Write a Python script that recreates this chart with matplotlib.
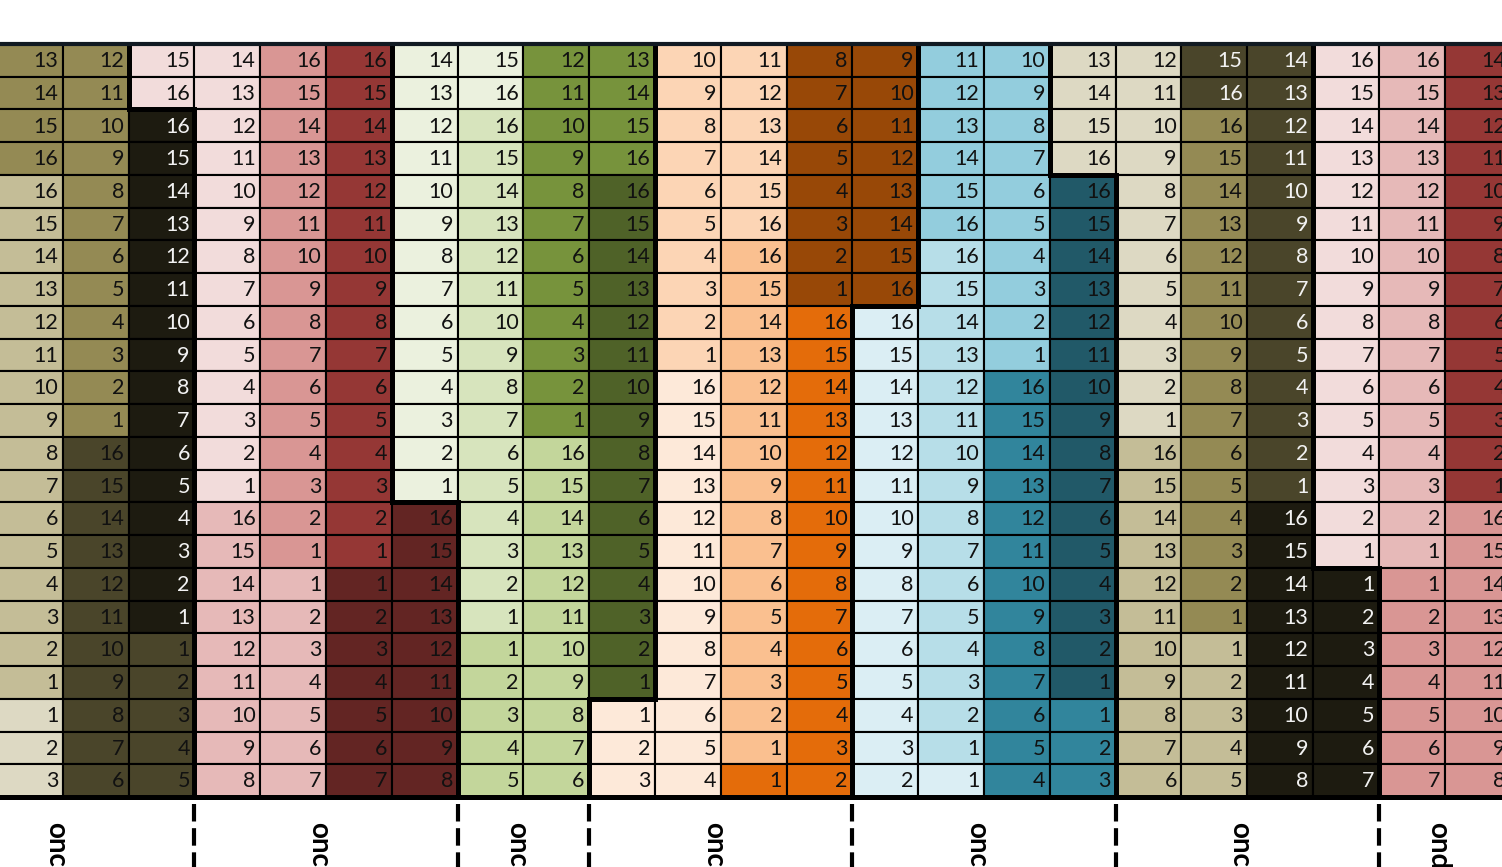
import matplotlib.pyplot as plt
from matplotlib.patches import Rectangle

# cell numbers, one list per column, top row first
col_values = [
    [13, 14, 15, 16, 16, 15, 14, 13, 12, 11, 10, 9, 8, 7, 6, 5, 4, 3, 2, 1, 1, 2, 3],
    [12, 11, 10, 9, 8, 7, 6, 5, 4, 3, 2, 1, 16, 15, 14, 13, 12, 11, 10, 9, 8, 7, 6],
    [15, 16, 16, 15, 14, 13, 12, 11, 10, 9, 8, 7, 6, 5, 4, 3, 2, 1, 1, 2, 3, 4, 5],
    [14, 13, 12, 11, 10, 9, 8, 7, 6, 5, 4, 3, 2, 1, 16, 15, 14, 13, 12, 11, 10, 9, 8],
    [16, 15, 14, 13, 12, 11, 10, 9, 8, 7, 6, 5, 4, 3, 2, 1, 1, 2, 3, 4, 5, 6, 7],
    [16, 15, 14, 13, 12, 11, 10, 9, 8, 7, 6, 5, 4, 3, 2, 1, 1, 2, 3, 4, 5, 6, 7],
    [14, 13, 12, 11, 10, 9, 8, 7, 6, 5, 4, 3, 2, 1, 16, 15, 14, 13, 12, 11, 10, 9, 8],
    [15, 16, 16, 15, 14, 13, 12, 11, 10, 9, 8, 7, 6, 5, 4, 3, 2, 1, 1, 2, 3, 4, 5],
    [12, 11, 10, 9, 8, 7, 6, 5, 4, 3, 2, 1, 16, 15, 14, 13, 12, 11, 10, 9, 8, 7, 6],
    [13, 14, 15, 16, 16, 15, 14, 13, 12, 11, 10, 9, 8, 7, 6, 5, 4, 3, 2, 1, 1, 2, 3],
    [10, 9, 8, 7, 6, 5, 4, 3, 2, 1, 16, 15, 14, 13, 12, 11, 10, 9, 8, 7, 6, 5, 4],
    [11, 12, 13, 14, 15, 16, 16, 15, 14, 13, 12, 11, 10, 9, 8, 7, 6, 5, 4, 3, 2, 1, 1],
    [8, 7, 6, 5, 4, 3, 2, 1, 16, 15, 14, 13, 12, 11, 10, 9, 8, 7, 6, 5, 4, 3, 2],
    [9, 10, 11, 12, 13, 14, 15, 16, 16, 15, 14, 13, 12, 11, 10, 9, 8, 7, 6, 5, 4, 3, 2],
    [11, 12, 13, 14, 15, 16, 16, 15, 14, 13, 12, 11, 10, 9, 8, 7, 6, 5, 4, 3, 2, 1, 1],
    [10, 9, 8, 7, 6, 5, 4, 3, 2, 1, 16, 15, 14, 13, 12, 11, 10, 9, 8, 7, 6, 5, 4],
    [13, 14, 15, 16, 16, 15, 14, 13, 12, 11, 10, 9, 8, 7, 6, 5, 4, 3, 2, 1, 1, 2, 3],
    [12, 11, 10, 9, 8, 7, 6, 5, 4, 3, 2, 1, 16, 15, 14, 13, 12, 11, 10, 9, 8, 7, 6],
    [15, 16, 16, 15, 14, 13, 12, 11, 10, 9, 8, 7, 6, 5, 4, 3, 2, 1, 1, 2, 3, 4, 5],
    [14, 13, 12, 11, 10, 9, 8, 7, 6, 5, 4, 3, 2, 1, 16, 15, 14, 13, 12, 11, 10, 9, 8],
    [16, 15, 14, 13, 12, 11, 10, 9, 8, 7, 6, 5, 4, 3, 2, 1, 1, 2, 3, 4, 5, 6, 7],
    [16, 15, 14, 13, 12, 11, 10, 9, 8, 7, 6, 5, 4, 3, 2, 1, 1, 2, 3, 4, 5, 6, 7],
    [14, 13, 12, 11, 10, 9, 8, 7, 6, 5, 4, 3, 2, 1, 16, 15, 14, 13, 12, 11, 10, 9, 8],
]

# runs down each column: (rows, shade, group, text colour)
col_runs = [
    [(4, 'tan50', 'A', 'k'), (16, 'tan25', 'A', 'k'), (3, 'tan10', 'A', 'k')],
    [(12, 'tan50', 'A', 'k'), (11, 'tan75', 'A', 'k')],
    [(2, 'red5', 'B', 'k'), (16, 'tan90', 'A', 'w'), (5, 'tan75', 'A', 'k')],
    [(14, 'red5', 'B', 'k'), (9, 'red25', 'B', 'k')],
    [(16, 'red40', 'B', 'k'), (7, 'red25', 'B', 'k')],
    [(16, 'red50', 'B', 'k'), (7, 'red75', 'B', 'k')],
    [(14, 'grn5', 'C', 'k'), (9, 'red75', 'B', 'k')],
    [(2, 'grn5', 'C', 'k'), (16, 'grn10', 'C', 'k'), (5, 'grn25', 'C', 'k')],
    [(12, 'grn50', 'C', 'k'), (11, 'grn25', 'C', 'k')],
    [(4, 'grn50', 'C', 'k'), (16, 'grn75', 'C', 'k'), (3, 'org5', 'D', 'k')],
    [(10, 'org10', 'D', 'k'), (13, 'org5', 'D', 'k')],
    [(6, 'org10', 'D', 'k'), (16, 'org25', 'D', 'k'), (1, 'org50', 'D', 'k')],
    [(8, 'org75', 'D', 'k'), (15, 'org50', 'D', 'k')],
    [(8, 'org75', 'D', 'k'), (15, 'aqu5', 'E', 'k')],
    [(6, 'aqu25', 'E', 'k'), (16, 'aqu10', 'E', 'k'), (1, 'aqu5', 'E', 'k')],
    [(10, 'aqu25', 'E', 'k'), (13, 'aqu50', 'E', 'k')],
    [(4, 'tan10', 'F', 'k'), (16, 'aqu75', 'E', 'k'), (3, 'aqu50', 'E', 'k')],
    [(12, 'tan10', 'F', 'k'), (11, 'tan25', 'F', 'k')],
    [(2, 'tan75', 'F', 'w'), (16, 'tan50', 'F', 'k'), (5, 'tan25', 'F', 'k')],
    [(14, 'tan75', 'F', 'w'), (9, 'tan90', 'F', 'w')],
    [(16, 'red5', 'G', 'k'), (7, 'tan90', 'F', 'w')],
    [(16, 'red25', 'G', 'k'), (7, 'red40', 'G', 'k')],
    [(14, 'red50', 'G', 'k'), (9, 'red40', 'G', 'k')],
]

shades = {
    'tan10': '#DDD9C3', 'tan25': '#C4BD97', 'tan50': '#948A54', 'tan75': '#4A452A', 'tan90': '#1D1B10',
    'red5': '#F2DCDB', 'red25': '#E6B9B8', 'red40': '#D99694', 'red50': '#953735', 'red75': '#632523',
    'grn5': '#EBF1DE', 'grn10': '#D7E4BD', 'grn25': '#C3D69B', 'grn50': '#77933C', 'grn75': '#4F6228',
    'org5': '#FDE9D9', 'org10': '#FCD5B5', 'org25': '#FAC090', 'org50': '#E46C0A', 'org75': '#984807',
    'aqu5': '#DBEEF4', 'aqu10': '#B7DEE8', 'aqu25': '#93CDDD', 'aqu50': '#31859C', 'aqu75': '#215968',
}
text_colours = {'k': '#111111', 'w': '#F2F2F2'}

# bottom labels and the column edges of the groups they sit under
group_edges = [-1, 3, 7, 9, 13, 17, 21, 23]
group_labels = ['onc', 'onc', 'onc', 'onc', 'onc', 'onc', 'ond']

n_rows = len(col_values[0])
n_cols = len(col_values)

# expand runs into per-cell lists
cell_shade, cell_group, cell_text = [], [], []
for runs in col_runs:
    s, g, t = [], [], []
    for n, shade, grp, tc in runs:
        s += [shade] * n
        g += [grp] * n
        t += [tc] * n
    cell_shade.append(s)
    cell_group.append(g)
    cell_text.append(t)

fig = plt.figure(figsize=(15.02, 8.67), dpi=100)
ax = fig.add_axes([0, 0, 1, 1])
cw, rh = 65.8, 32.74          # cell size in pixels
ax.set_xlim(3 / cw, 1505 / cw)
ax.set_ylim((867 - 44) / rh, -44 / rh)
ax.axis('off')

for i in range(n_cols):
    for j in range(n_rows):
        ax.add_patch(Rectangle((i, j), 1, 1, facecolor=shades[cell_shade[i][j]],
                               edgecolor='black', lw=1.5))
        ax.text(i + 0.93, j + 0.52, str(col_values[i][j]), ha='right', va='center',
                fontsize=15.5, family='Lato', color=text_colours[cell_text[i][j]])

# thick lines where the group changes
thick = dict(color='black', lw=3.6, solid_capstyle='projecting')
for i in range(n_cols):
    for j in range(n_rows):
        if i + 1 < n_cols and cell_group[i][j] != cell_group[i + 1][j]:
            ax.plot([i + 1, i + 1], [j, j + 1], **thick)
        if j + 1 < n_rows and cell_group[i][j] != cell_group[i][j + 1]:
            ax.plot([i, i + 1], [j + 1, j + 1], **thick)
ax.plot([0, n_cols], [0, 0], color='#111a22', lw=3)
ax.plot([0, n_cols], [n_rows, n_rows], color='black', lw=3.6)

# dashed separators and labels under the table
for x in group_edges[1:-1]:
    ax.plot([x, x], [n_rows + 0.22, n_rows + 3], color='black', lw=3,
            linestyle=(0, (4.2, 1.6)))
for k, lab in enumerate(group_labels):
    xc = (group_edges[k] + group_edges[k + 1]) / 2
    ax.text(xc - 0.1, n_rows + 0.76, lab, rotation=270, ha='center', va='top',
            fontsize=20, fontweight='bold', family='Lato')

fig.savefig('out.png', dpi=100)
